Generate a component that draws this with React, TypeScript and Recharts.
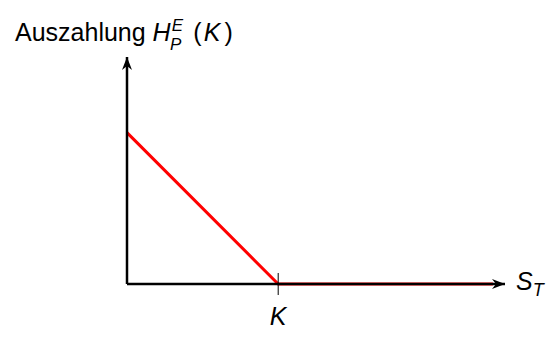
import { LineChart, Line, XAxis, YAxis, ReferenceDot } from 'recharts';

// put payoff at expiry, strike K = 1
const spotPrices = [0, 1, 2.42];
const payoffValues = [1, 0, 0];
const strikeTicks = [1];
const strikeLabel = 'K';
const xAxisEnd = 2.5;
const yAxisEnd = 1.5;

const data = spotPrices.map((s, i) => ({ s, payoff: payoffValues[i] }));

const FONT = '"Liberation Sans", Arial, Helvetica, sans-serif';

const ArrowRight = (props: any) => {
    const { cx, cy } = props;
    return (
        <path
            d={`M${cx},${cy} L${cx - 13},${cy - 5} L${cx - 9},${cy} L${cx - 13},${cy + 5} Z`}
            fill="#000"
        />
    );
};

const ArrowUp = (props: any) => {
    const { cx, cy } = props;
    return (
        <path
            d={`M${cx},${cy} L${cx - 5},${cy + 13} L${cx},${cy + 9} L${cx + 5},${cy + 13} Z`}
            fill="#000"
        />
    );
};

const StrikeTick = (props: any) => {
    const { x, y, payload } = props;
    return (
        <g>
            <line x1={x} x2={x} y1={y - 11} y2={y + 11} stroke="#000" strokeWidth={1} />
            <text x={x} y={y + 41} textAnchor="middle" fontFamily={FONT} fontStyle="italic" fontSize={25} fill="#000">
                {payload.value === 1 ? strikeLabel : payload.value}
            </text>
        </g>
    );
};

const SpotLabel = (props: any) => {
    const { x, y, width } = props.viewBox;
    return (
        <text x={x + width + 11} y={y + 6} fontFamily={FONT} fontSize={25} fill="#000">
            <tspan fontStyle="italic">S</tspan>
            <tspan fontStyle="italic" fontSize={18} dy={6}>T</tspan>
        </text>
    );
};

const PayoffLabel = (props: any) => {
    const { x, y, width } = props.viewBox;
    const axisX = x + width;
    return (
        <text x={axisX - 112} y={y - 16} fontFamily={FONT} fontSize={25} fill="#000">
            <tspan>Auszahlung </tspan>
            <tspan fontStyle="italic">H</tspan>
            <tspan fontStyle="italic" fontSize={17} dx={1} dy={-10}>E</tspan>
            <tspan fontStyle="italic" fontSize={17} dx={-13} dy={19}>P</tspan>
            <tspan dx={12} dy={-9}>(</tspan>
            <tspan fontStyle="italic" dx={2}>K</tspan>
            <tspan dx={4}>)</tspan>
        </text>
    );
};

export default function App() {
    return (
        <div style={{ position: 'absolute', left: 0, top: 0, background: '#fff' }}>
            <LineChart width={551} height={338} data={data} margin={{ top: 57, right: 46, bottom: 24, left: 97 }}>
                <XAxis
                    dataKey="s"
                    type="number"
                    domain={[0, xAxisEnd]}
                    ticks={strikeTicks}
                    height={30}
                    tickSize={0}
                    tickMargin={0}
                    tickLine={false}
                    tick={<StrikeTick />}
                    axisLine={{ stroke: '#000', strokeWidth: 2.5 }}
                    label={<SpotLabel />}
                />
                <YAxis
                    type="number"
                    domain={[0, yAxisEnd]}
                    width={30}
                    tick={false}
                    tickLine={false}
                    axisLine={{ stroke: '#000', strokeWidth: 2.5 }}
                    label={<PayoffLabel />}
                />
                <Line
                    type="linear"
                    dataKey="payoff"
                    stroke="#ff0000"
                    strokeWidth={3}
                    dot={false}
                    isAnimationActive={false}
                />
                <ReferenceDot x={xAxisEnd} y={0} ifOverflow="visible" shape={<ArrowRight />} />
                <ReferenceDot x={0} y={yAxisEnd} ifOverflow="visible" shape={<ArrowUp />} />
            </LineChart>
        </div>
    );
}
